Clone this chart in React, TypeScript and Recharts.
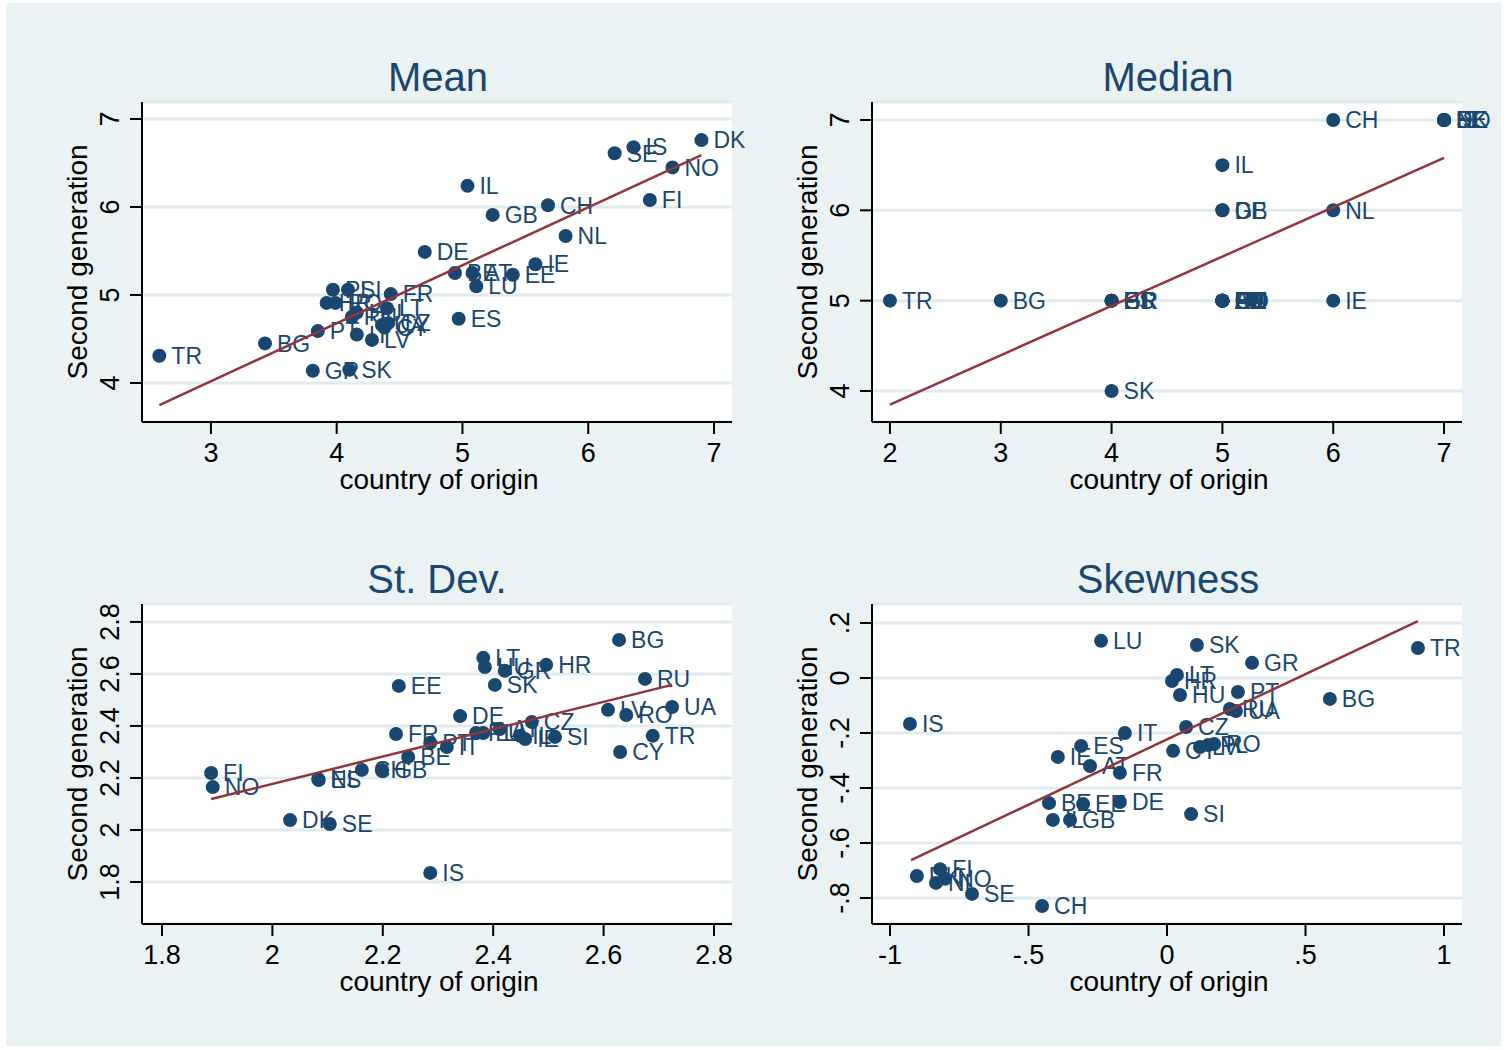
import { ScatterChart, Scatter, XAxis, YAxis, CartesianGrid } from 'recharts';

// Stata-style 2x2 graph combine: second generation vs country of origin

const FONT = '"Liberation Sans", Arial, Helvetica, sans-serif';
const NAVY = '#1A476F';
const MAROON = '#90353B';
const BG = '#EAF2F3';
const GRID = '#E1EBEE';

// --- Mean ---
const meanCountries = ['TR', 'BG', 'GR', 'SK', 'PT', 'DK', 'SE', 'IS', 'NO', 'FI', 'IL', 'GB', 'CH', 'NL', 'DE', 'IE', 'BE', 'AT', 'EE', 'LU', 'ES', 'FR', 'PL', 'SI', 'HR', 'RO', 'RU', 'HU', 'LT', 'CZ', 'UA', 'CY', 'IT', 'LV'];
const meanOrigin = [2.59, 3.43, 3.81, 4.1, 3.85, 6.9, 6.21, 6.36, 6.67, 6.49, 5.04, 5.24, 5.68, 5.82, 4.7, 5.58, 4.94, 5.08, 5.4, 5.11, 4.97, 4.43, 3.97, 4.09, 3.92, 3.99, 4.12, 4.16, 4.4, 4.41, 4.36, 4.38, 4.16, 4.28];
const meanSecond = [4.31, 4.45, 4.14, 4.15, 4.59, 6.76, 6.61, 6.68, 6.45, 6.08, 6.24, 5.91, 6.02, 5.67, 5.49, 5.35, 5.25, 5.25, 5.23, 5.1, 4.73, 5.01, 5.06, 5.06, 4.91, 4.91, 4.75, 4.8, 4.85, 4.68, 4.66, 4.63, 4.55, 4.49];
const meanFitX = [2.59, 6.9];
const meanFitY = [3.75, 6.59];
const meanXTicks = [3, 4, 5, 6, 7];
const meanYTicks = [4, 5, 6, 7];

// --- Median ---
const medianCountries = ['TR', 'BG', 'SK', 'ES', 'GR', 'PT', 'HR', 'AT', 'BE', 'CY', 'CZ', 'EE', 'FR', 'HU', 'IT', 'LT', 'LU', 'LV', 'PL', 'RO', 'RU', 'SI', 'UA', 'IE', 'DE', 'GB', 'IL', 'NL', 'CH', 'DK', 'FI', 'IS', 'SE', 'NO'];
const medianOrigin = [2, 3, 4, 4, 4, 4, 4, 5, 5, 5, 5, 5, 5, 5, 5, 5, 5, 5, 5, 5, 5, 5, 5, 6, 5, 5, 5, 6, 6, 7, 7, 7, 7, 7];
const medianSecond = [5, 5, 4, 5, 5, 5, 5, 5, 5, 5, 5, 5, 5, 5, 5, 5, 5, 5, 5, 5, 5, 5, 5, 5, 6, 6, 6.5, 6, 7, 7, 7, 7, 7, 7];
const medianFitX = [2, 7];
const medianFitY = [3.85, 6.58];
const medianXTicks = [2, 3, 4, 5, 6, 7];
const medianYTicks = [4, 5, 6, 7];

// --- St. Dev. ---
const sdCountries = ['BG', 'LT', 'HU', 'GR', 'HR', 'SK', 'EE', 'RU', 'LV', 'RO', 'UA', 'DE', 'CZ', 'PL', 'LU', 'AT', 'IL', 'IE', 'SI', 'TR', 'CY', 'IT', 'FR', 'PT', 'BE', 'CH', 'GB', 'NL', 'ES', 'FI', 'NO', 'DK', 'SE', 'IS'];
const sdOrigin = [2.628, 2.382, 2.385, 2.421, 2.496, 2.403, 2.229, 2.675, 2.608, 2.641, 2.724, 2.34, 2.47, 2.369, 2.382, 2.412, 2.449, 2.458, 2.512, 2.689, 2.63, 2.316, 2.224, 2.286, 2.246, 2.162, 2.199, 2.083, 2.084, 1.889, 1.892, 2.032, 2.104, 2.286];
const sdSecond = [2.731, 2.662, 2.627, 2.612, 2.635, 2.558, 2.554, 2.581, 2.462, 2.442, 2.473, 2.438, 2.415, 2.373, 2.373, 2.388, 2.362, 2.35, 2.358, 2.362, 2.3, 2.319, 2.369, 2.335, 2.281, 2.231, 2.231, 2.196, 2.192, 2.219, 2.165, 2.038, 2.023, 1.835];
const sdFitX = [1.889, 2.724];
const sdFitY = [2.119, 2.558];
const sdXTicks = [1.8, 2, 2.2, 2.4, 2.6, 2.8];
const sdYTicks = [1.8, 2, 2.2, 2.4, 2.6, 2.8];

// --- Skewness ---
const skewCountries = ['LU', 'SK', 'GR', 'TR', 'BG', 'IS', 'LT', 'HR', 'HU', 'PT', 'RU', 'UA', 'CZ', 'IT', 'ES', 'IE', 'AT', 'FR', 'CY', 'LV', 'PL', 'RO', 'BE', 'EE', 'DE', 'SI', 'IL', 'GB', 'FI', 'DK', 'NL', 'NO', 'SE', 'CH'];
const skewOrigin = [-0.238, 0.108, 0.307, 0.906, 0.588, -0.928, 0.036, 0.018, 0.047, 0.256, 0.227, 0.249, 0.069, -0.152, -0.31, -0.394, -0.278, -0.17, 0.022, 0.119, 0.148, 0.17, -0.426, -0.303, -0.17, 0.087, -0.412, -0.35, -0.819, -0.903, -0.834, -0.801, -0.704, -0.451];
const skewSecond = [0.135, 0.12, 0.055, 0.109, -0.076, -0.167, 0.011, -0.011, -0.062, -0.051, -0.113, -0.12, -0.178, -0.2, -0.247, -0.287, -0.32, -0.345, -0.265, -0.251, -0.244, -0.24, -0.455, -0.458, -0.451, -0.495, -0.516, -0.516, -0.695, -0.72, -0.745, -0.73, -0.785, -0.829];
const skewFitX = [-0.924, 0.906];
const skewFitY = [-0.662, 0.207];
const skewXTicks = [-1, -0.5, 0, 0.5, 1];
const skewYTicks = [-0.8, -0.6, -0.4, -0.2, 0, 0.2];

// Stata drops the leading zero: 0.5 -> .5, -0.2 -> -.2
const fmt = (v: number) => String(v).replace(/^(-?)0\./, '$1.');

const RotTick = (props: any) => {
  const { x, y, payload } = props;
  return (
    <text
      x={x}
      y={y}
      transform={`rotate(-90 ${x} ${y})`}
      textAnchor="middle"
      fontSize={27}
      fill="#000"
      fontFamily={FONT}
    >
      {fmt(payload.value)}
    </text>
  );
};

const LabelledDot = (p: any) => (
  <g>
    <circle cx={p.cx} cy={p.cy} r={7} fill={NAVY} />
    <text x={p.cx + 12} y={p.cy} dy="0.36em" fontSize={23} fill={NAVY} fontFamily={FONT}>
      {p.payload.c}
    </text>
  </g>
);

interface PanelProps {
  left: number;
  top: number;
  countries: string[];
  xs: number[];
  ys: number[];
  fitX: number[];
  fitY: number[];
  xDomain: [number, number];
  yDomain: [number, number];
  xTicks: number[];
  yTicks: number[];
}

function Panel({ left, top, countries, xs, ys, fitX, fitY, xDomain, yDomain, xTicks, yTicks }: PanelProps) {
  const points = countries.map((c, i) => ({ c, x: xs[i], y: ys[i] }));
  const fit = fitX.map((x, i) => ({ x, y: fitY[i] }));
  const axisStyle = { stroke: '#000', strokeWidth: 2 };

  return (
    <div style={{ position: 'absolute', left, top }}>
      <ScatterChart width={770} height={520} margin={{ top: 102, right: 38, bottom: 38, left: 82 }}>
        <CartesianGrid vertical={false} stroke={GRID} strokeWidth={3} fill="#fff" />
        <XAxis
          type="number"
          dataKey="x"
          domain={xDomain}
          ticks={xTicks}
          interval={0}
          height={60}
          tickSize={12}
          tickMargin={9}
          axisLine={axisStyle}
          tickLine={axisStyle}
          tickFormatter={fmt}
          tick={{ fontSize: 27, fill: '#000', fontFamily: FONT }}
        />
        <YAxis
          type="number"
          dataKey="y"
          domain={yDomain}
          ticks={yTicks}
          interval={0}
          width={60}
          tickSize={12}
          tickMargin={11}
          axisLine={axisStyle}
          tickLine={axisStyle}
          tick={(p: any) => <RotTick {...p} />}
        />
        <Scatter data={points} shape={LabelledDot} isAnimationActive={false} />
        <Scatter
          data={fit}
          line={{ stroke: MAROON, strokeWidth: 2.5 }}
          shape={() => <g />}
          isAnimationActive={false}
        />
      </ScatterChart>
    </div>
  );
}

export default function App() {
  const txt = { fontFamily: FONT, textAnchor: 'middle' as const };
  return (
    <div style={{ position: 'relative', width: 1507, height: 1050, background: '#fff' }}>
      <style>{'body{margin:0}'}</style>
      <div style={{ position: 'absolute', left: 6, top: 3, width: 1495, height: 1043, background: BG }} />

      <Panel left={0} top={0} countries={meanCountries} xs={meanOrigin} ys={meanSecond}
        fitX={meanFitX} fitY={meanFitY} xDomain={[2.452, 7.143]} yDomain={[3.557, 7.193]}
        xTicks={meanXTicks} yTicks={meanYTicks} />
      <Panel left={730} top={0} countries={medianCountries} xs={medianOrigin} ys={medianSecond}
        fitX={medianFitX} fitY={medianFitY} xDomain={[1.838, 7.162]} yDomain={[3.657, 7.199]}
        xTicks={medianXTicks} yTicks={medianYTicks} />
      <Panel left={0} top={502} countries={sdCountries} xs={sdOrigin} ys={sdSecond}
        fitX={sdFitX} fitY={sdFitY} xDomain={[1.7638, 2.8326]} yDomain={[1.6385, 2.869]}
        xTicks={sdXTicks} yTicks={sdYTicks} />
      <Panel left={730} top={502} countries={skewCountries} xs={skewOrigin} ys={skewSecond}
        fitX={skewFitX} fitY={skewFitY} xDomain={[-1.065, 1.065]} yDomain={[-0.8945, 0.269]}
        xTicks={skewXTicks} yTicks={skewYTicks} />

      <svg width={1507} height={1050} style={{ position: 'absolute', left: 0, top: 0, pointerEvents: 'none' }}>
        <g {...txt} fill={NAVY} fontSize={40}>
          <text x={438} y={91}>Mean</text>
          <text x={1168} y={91}>Median</text>
          <text x={437} y={593}>St. Dev.</text>
          <text x={1168} y={593}>Skewness</text>
        </g>
        <g {...txt} fill="#000" fontSize={28}>
          <text x={439} y={489}>country of origin</text>
          <text x={1169} y={489}>country of origin</text>
          <text x={439} y={991}>country of origin</text>
          <text x={1169} y={991}>country of origin</text>
          <text x={87} y={262} transform="rotate(-90 87 262)">Second generation</text>
          <text x={817} y={262} transform="rotate(-90 817 262)">Second generation</text>
          <text x={87} y={764} transform="rotate(-90 87 764)">Second generation</text>
          <text x={817} y={764} transform="rotate(-90 817 764)">Second generation</text>
        </g>
      </svg>
    </div>
  );
}
